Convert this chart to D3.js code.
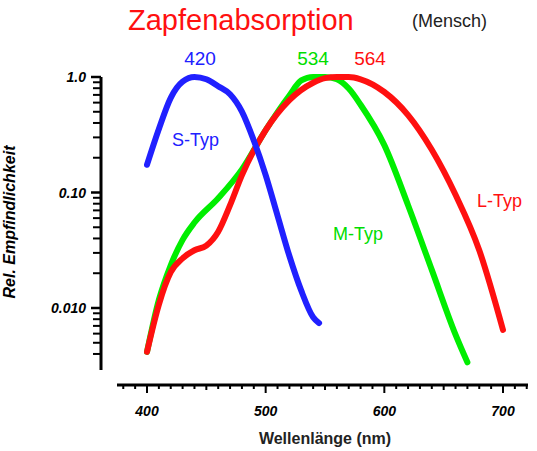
<!DOCTYPE html><html><head><meta charset="utf-8"><script src="https://cdn.jsdelivr.net/npm/d3@7"></script>
<style>body{margin:0;background:#fff}text{font-family:"Liberation Sans",Arial,sans-serif}</style></head><body>
<script>
const sWl=[400,410,420,430,440,450,460,470,480,490,500,510,520,530,540,545];
const sLog=[-0.76,-0.45,-0.18,-0.04,0,-0.02,-0.08,-0.15,-0.3,-0.55,-0.85,-1.2,-1.55,-1.85,-2.08,-2.13];
const mWl=[400,410,420,430,440,460,480,500,520,530,540,550,560,570,580,600,620,640,660,670];
const mLog=[-2.38,-1.93,-1.63,-1.41,-1.26,-1.05,-0.8,-0.46,-0.16,-0.03,0,0,-0.02,-0.1,-0.24,-0.59,-1.11,-1.67,-2.23,-2.47];
const lWl=[400,410,420,430,440,450,460,470,480,500,520,540,550,560,570,580,600,620,640,660,680,700];
const lLog=[-2.38,-1.97,-1.69,-1.57,-1.5,-1.46,-1.34,-1.11,-0.85,-0.46,-0.2,-0.05,-0.01,0,0,-0.02,-0.13,-0.33,-0.63,-1.02,-1.5,-2.19];
const yTicks=[1,0.1,0.01], yLabels=["1.0","0.10","0.010"];
const xTicks=[400,500,600,700];
const W=537,H=451;
const svg=d3.select("body").append("svg").attr("width",W).attr("height",H);
const x=d3.scaleLinear().domain([400,700]).range([147,503]);
const y=d3.scaleLog().domain([0.01,1]).range([308,77]);
svg.append("line").attr("x1",101).attr("x2",101).attr("y1",y(1)).attr("y2",y(0.0029)).attr("stroke","#000").attr("stroke-width",3);
const minors=[];
[0.1,0.01,0.001].forEach(d=>{for(let k=2;k<=9;k++){const v=d*k;if(v>=0.0039)minors.push(v);}});
svg.selectAll(".ym").data(minors).join("line").attr("x1",93).attr("x2",101).attr("y1",d=>y(d)).attr("y2",d=>y(d)).attr("stroke","#000").attr("stroke-width",2);
svg.selectAll(".yM").data(yTicks).join("line").attr("x1",91).attr("x2",101).attr("y1",d=>y(d)).attr("y2",d=>y(d)).attr("stroke","#000").attr("stroke-width",2.5);
svg.selectAll(".yl").data(yTicks).join("text").attr("x",86).attr("y",d=>y(d)+5).attr("text-anchor","end").attr("font-size",14).attr("font-weight","bold").attr("font-style","italic").text((d,i)=>yLabels[i]);
svg.append("text").attr("transform","translate(15,222) rotate(-90)").attr("text-anchor","middle").attr("font-size",16).attr("font-weight","bold").attr("font-style","italic").text("Rel. Empfindlichkeit");
svg.append("line").attr("x1",117).attr("x2",528).attr("y1",385).attr("y2",385).attr("stroke","#000").attr("stroke-width",3);
const xm=d3.range(380,721,10);
svg.selectAll(".xm").data(xm).join("line").attr("x1",d=>x(d)).attr("x2",d=>x(d)).attr("y1",385).attr("y2",d=>d%100===0?393:(d%50===0?390:389)).attr("stroke","#000").attr("stroke-width",2);
svg.selectAll(".xl").data(xTicks).join("text").attr("x",d=>x(d)).attr("y",416).attr("text-anchor","middle").attr("font-size",14).attr("font-weight","bold").attr("font-style","italic").text(d=>d);
svg.append("text").attr("x",325).attr("y",444).attr("text-anchor","middle").attr("font-size",16).attr("font-weight","bold").attr("fill","#222").text("Wellenlänge (nm)");
const line=d3.line().x(d=>x(d[0])).y(d=>y(Math.pow(10,d[1]))).curve(d3.curveMonotoneX);
[[mWl,mLog,"#00ee00"],[lWl,lLog,"#ff1010"],[sWl,sLog,"#2020ff"]].forEach(([w,l,c])=>{
svg.append("path").attr("d",line(w.map((v,i)=>[v,l[i]]))).attr("fill","none").attr("stroke",c).attr("stroke-width",6).attr("stroke-linecap","round");});
svg.append("text").attr("x",128).attr("y",30).attr("font-size",29).attr("fill","#ff1010").text("Zapfenabsorption");
svg.append("text").attr("x",412).attr("y",27).attr("font-size",18).attr("fill","#222").text("(Mensch)");
[["420",200,"#2020ff"],["534",313,"#00dd00"],["564",370,"#ff1010"]].forEach(([t,xx,c])=>svg.append("text").attr("x",xx).attr("y",65).attr("text-anchor","middle").attr("font-size",19).attr("fill",c).text(t));
[["S-Typ",172,146,"#2020ff"],["M-Typ",333,240,"#00dd00"],["L-Typ",477,207,"#ff1010"]].forEach(([t,xx,yy,c])=>svg.append("text").attr("x",xx).attr("y",yy).attr("font-size",18).attr("fill",c).text(t));
</script></body></html>
